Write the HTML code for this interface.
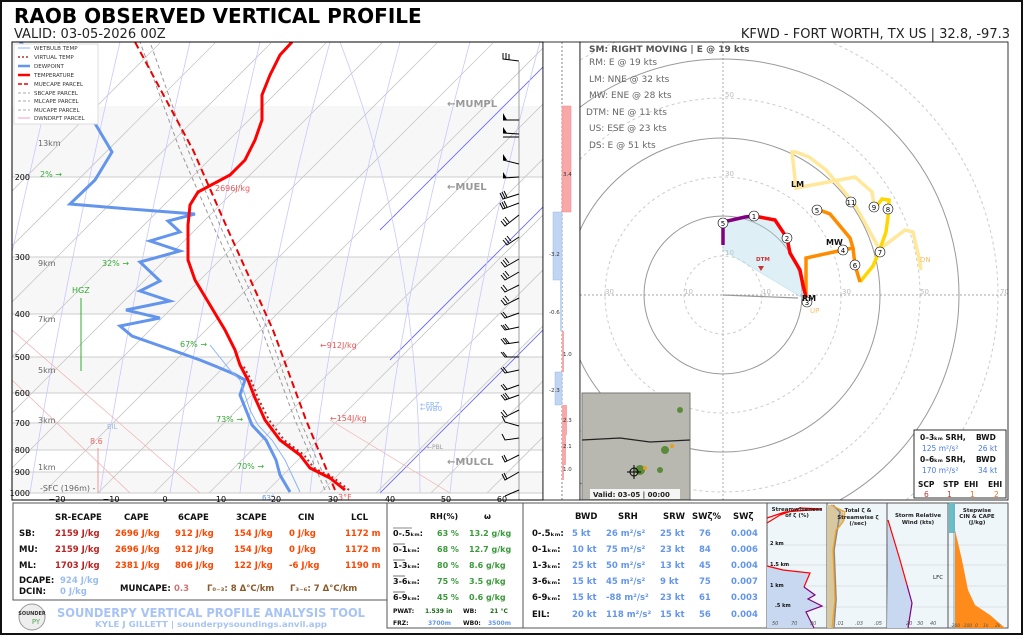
<!DOCTYPE html>
<html><head><meta charset="utf-8"><style>
body{margin:0;background:#fff;}
svg{display:block;font-family:"DejaVu Sans","Liberation Sans",sans-serif;}
</style></head><body>
<svg width="1024" height="640" viewBox="0 0 1024 640" xmlns="http://www.w3.org/2000/svg">
<rect x="0" y="0" width="1024" height="640" fill="#fff"/>
<rect x="1" y="1" width="1021" height="633" fill="none" stroke="#111" stroke-width="2"/>
<text x="14" y="23" font-size="20" font-weight="bold" fill="#000">RAOB OBSERVED VERTICAL PROFILE</text>
<text x="14" y="38" font-size="13" fill="#222">VALID: 03-05-2026 00Z</text>
<text x="1010" y="38" font-size="13" fill="#222" text-anchor="end">KFWD - FORT WORTH, TX US | 32.8, -97.3</text>

<defs><clipPath id="sk"><rect x="12" y="42" width="531" height="458"/></clipPath>
<clipPath id="hd"><rect x="580" y="42" width="428" height="458"/></clipPath></defs>
<g clip-path="url(#sk)">
<rect x="12" y="42" width="531" height="458" fill="#fff"/>
<rect x="12" y="106" width="531" height="71" fill="#f7f7f7"/>
<rect x="12" y="257" width="531" height="57" fill="#f7f7f7"/>
<rect x="12" y="357" width="531" height="36" fill="#f7f7f7"/>
<rect x="12" y="423" width="531" height="27" fill="#f7f7f7"/>
<rect x="12" y="472" width="531" height="21" fill="#f7f7f7"/>
<g stroke="#ccc" stroke-width="1">
<line x1="12" y1="493" x2="543" y2="493"/><line x1="12" y1="472" x2="543" y2="472"/>
<line x1="12" y1="450" x2="543" y2="450"/><line x1="12" y1="423" x2="543" y2="423"/>
<line x1="12" y1="393" x2="543" y2="393"/><line x1="12" y1="357" x2="543" y2="357"/>
<line x1="12" y1="314" x2="543" y2="314"/><line x1="12" y1="257" x2="543" y2="257"/>
<line x1="12" y1="177" x2="543" y2="177"/>
</g>
<g stroke="#c8c8c8" stroke-width="0.8">
<line x1="-290" y1="493" x2="160" y2="43"/><line x1="-235" y1="493" x2="215" y2="43"/>
<line x1="-179" y1="493" x2="271" y2="43"/><line x1="-124" y1="493" x2="326" y2="43"/>
<line x1="-68" y1="493" x2="382" y2="43"/><line x1="-13" y1="493" x2="437" y2="43"/>
<line x1="43" y1="493" x2="493" y2="43"/><line x1="98" y1="493" x2="548" y2="43"/>
<line x1="154" y1="493" x2="604" y2="43"/><line x1="209" y1="493" x2="659" y2="43"/>
<line x1="265" y1="493" x2="715" y2="43"/><line x1="320" y1="493" x2="770" y2="43"/>
<line x1="376" y1="493" x2="826" y2="43"/><line x1="431" y1="493" x2="881" y2="43"/>
<line x1="487" y1="493" x2="937" y2="43"/>
</g>
<g stroke="#6a6aee" stroke-width="0.9">
<line x1="380" y1="493" x2="830" y2="43"/><line x1="390" y1="360" x2="700" y2="50"/>
<line x1="380" y1="230" x2="560" y2="50"/>
</g>
<g stroke="#c8c8ff" stroke-width="0.8" fill="none">
<path d="M-40 493 Q0 300 60 42"/><path d="M30 493 Q60 300 120 42"/><path d="M100 493 Q130 300 190 42"/>
<path d="M170 493 Q200 300 260 42"/><path d="M240 493 Q260 300 330 42"/><path d="M310 493 Q330 300 400 42"/>
<path d="M380 493 Q400 300 470 42"/><path d="M450 493 Q470 300 540 42"/>
<path d="M420 493 Q420 250 340 42"/>
</g>
<g stroke="#f0b0b0" stroke-width="0.7" fill="none">
<path d="M12 330 L200 493"/><path d="M12 380 L130 493"/><path d="M330 420 L450 493"/>
</g>
<path d="M330 490 L300 420 L268 330 L222 230 L188 150 L150 42" fill="none" stroke="#999" stroke-width="1" stroke-dasharray="4,3"/>
<path d="M325 490 L295 420 L262 330 L215 230 L180 150 L140 42" fill="none" stroke="#999" stroke-width="1" stroke-dasharray="4,3"/>
<path d="M335 490 L306 420 L273 330 L228 230 L193 150 L135 42" fill="none" stroke="#e00" stroke-width="2" stroke-dasharray="7,4"/>
<polyline fill="none" stroke="#6495ed" stroke-width="3" points="290,492 280,475 276,460 266,440 252,425 246,410 240,395 245,380 234,374 215,366 200,360 172,350 132,336 120,326 160,318 126,310 170,301 140,291 160,281 140,262 180,251 150,241 180,232 168,221 195,214 130,209 70,204 95,180 112,152 90,115 60,80 38,58 20,42"/>
<polyline fill="none" stroke="#8ab4f8" stroke-width="1" points="300,492 292,475 285,460 272,440 258,425 250,410 245,395 240,380 230,370 222,360 210,345"/>
<polyline fill="none" stroke="#a33" stroke-width="2" stroke-dasharray="2,3" points="349,490 334,478 314,468 304,455 284,440 269,420 258,398 251,380 243,365"/>
<polyline fill="none" stroke="#f00" stroke-width="3" points="345,490 330,478 310,468 300,455 280,440 265,420 255,398 248,380 240,365 235,350 225,330 210,305 195,280 188,260 188,225 190,205 198,192 230,175 245,160 255,140 262,120 262,95 270,75 280,55 292,42"/>
<g font-size="8" fill="#666">
<text x="38" y="146">13km</text><text x="38" y="266">9km</text><text x="38" y="322">7km</text>
<text x="38" y="373">5km</text><text x="38" y="423">3km</text><text x="38" y="470">1km</text>
<text x="40" y="491">-SFC (196m) -</text>
</g>
<g font-size="8" fill="#3a3">
<text x="40" y="177">2% →</text><text x="102" y="266">32% →</text><text x="180" y="347">67% →</text>
<text x="216" y="422">73% →</text><text x="237" y="469">70% →</text>
</g>
<text x="72" y="293" font-size="8" fill="#3a3">HGZ</text>
<line x1="81" y1="298" x2="81" y2="371" stroke="#3a3" stroke-width="1"/>
<text x="90" y="444" font-size="8" fill="#e66">8.6</text>
<line x1="98" y1="448" x2="98" y2="493" stroke="#e99"/>
<text x="107" y="429" font-size="7" fill="#9bd">EIL</text>
<g font-size="8" fill="#e55">
<text x="215" y="191">2696J/kg</text><text x="320" y="348">←912J/kg</text><text x="330" y="421">←154J/kg</text>
<text x="338" y="500">3°F</text>
</g>
<g font-size="10" font-weight="bold" fill="#999">
<text x="447" y="107">←MUMPL</text><text x="447" y="190">←MUEL</text>
<text x="447" y="465">←MULCL</text>
</g>
<text x="420" y="407" font-size="7" fill="#8ab4f8">←FRZ</text>
<text x="420" y="411" font-size="7" fill="#8ab4f8">←WB0</text>
<text x="427" y="449" font-size="6" fill="#999">←PBL</text>
<text x="262" y="500" font-size="7" fill="#6495ed">63°</text>
<line x1="519" y1="62" x2="519" y2="500" stroke="#888" stroke-width="0.8"/>
<g stroke="#000" stroke-width="1" fill="none">
<path d="M519 61 L503 59 L503 53 M506 59 L506 53 M509 60 L509 54"/>
<path d="M519 120 L503 120"/><path d="M519 134 L503 133 M519 137 L503 137"/>
<path d="M519 164 L503 160"/><path d="M519 177 L503 178"/>
<path d="M519 194 L503 199 L500 193 M505 198 L502 192 M507 197 L504 191"/>
<path d="M519 203 L503 209 L500 203 M505 208 L502 202 M507 207 L504 201"/>
<path d="M519 215 L505 226 L501 221 M507 224 L503 219 M509 222 L505 217"/>
<path d="M519 237 L507 245 L503 240 M509 243 L505 238 M511 241 L507 236"/>
<path d="M519 259 L505 267 L501 262 M507 265 L503 260 M509 263 L505 258"/>
<path d="M519 272 L505 280 L501 275 M507 278 L503 273 M509 276 L505 271"/>
<path d="M519 285 L505 292 L501 287 M507 290 L503 285"/>
<path d="M519 298 L505 305 L501 300 M507 303 L503 298 M509 301 L505 296"/>
<path d="M519 313 L505 318 L501 313 M507 317 L503 312"/>
<path d="M519 327 L505 330 L501 325 M507 330 L503 325 M509 329 L505 324"/>
<path d="M519 342 L505 344 L501 339 M507 343 L503 338 M509 343 L505 338"/>
<path d="M519 357 L505 357 L501 352 M507 357 L503 352"/>
<path d="M519 370 L505 373 L501 368 M507 372 L503 367"/>
<path d="M519 385 L505 390 L501 385 M507 389 L503 384"/>
<path d="M519 395 L505 400 L501 395 M507 399 L503 394 M509 398 L505 393"/>
<path d="M519 410 L505 417 L501 412 M507 415 L503 410"/>
<path d="M519 426 L505 422 L502 416"/>
<path d="M519 438 L505 440 L502 434"/>
<path d="M519 455 L505 462 L502 456 M507 461 L504 455"/>
<path d="M519 472 L505 480 L502 474 M507 479 L504 473"/>
<path d="M519 490 L505 496"/>
</g>
<g fill="#000">
<polygon points="503,120 503,113 507,120"/><polygon points="503,133 503,127 507,133"/>
<polygon points="503,160 503,154 507,160"/><polygon points="503,178 503,172 507,178"/>
</g>
<rect x="14" y="44" width="84" height="80" fill="#fff" stroke="#ddd"/>
<g font-size="5.5" fill="#333">
<line x1="18" y1="48" x2="30" y2="48" stroke="#8ab4f8"/><text x="34" y="50">WETBULB TEMP</text>
<line x1="18" y1="57" x2="30" y2="57" stroke="#a33" stroke-width="1.5" stroke-dasharray="2,2"/><text x="34" y="59">VIRTUAL TEMP</text>
<line x1="18" y1="66" x2="30" y2="66" stroke="#6495ed" stroke-width="2.5"/><text x="34" y="68">DEWPOINT</text>
<line x1="18" y1="75" x2="30" y2="75" stroke="#f00" stroke-width="2.5"/><text x="34" y="77">TEMPERATURE</text>
<line x1="18" y1="84" x2="30" y2="84" stroke="#e00" stroke-width="1.5" stroke-dasharray="4,2"/><text x="34" y="86">MUECAPE PARCEL</text>
<line x1="18" y1="93" x2="30" y2="93" stroke="#aaa" stroke-dasharray="3,2"/><text x="34" y="95">SBCAPE PARCEL</text>
<line x1="18" y1="101" x2="30" y2="101" stroke="#aaa" stroke-dasharray="3,2"/><text x="34" y="103">MLCAPE PARCEL</text>
<line x1="18" y1="110" x2="30" y2="110" stroke="#aaa" stroke-dasharray="3,2"/><text x="34" y="112">MUCAPE PARCEL</text>
<line x1="18" y1="118" x2="30" y2="118" stroke="#e8a0c0"/><text x="34" y="120">DWNDRFT PARCEL</text>
</g>
</g>
<rect x="12" y="42" width="531" height="458" fill="none" stroke="#000" stroke-width="1"/>
<g font-size="8" fill="#000" text-anchor="end">
<text x="30" y="496">1000</text><text x="30" y="475">900</text><text x="30" y="453">800</text>
<text x="30" y="426">700</text><text x="30" y="396">600</text><text x="30" y="360">500</text>
<text x="30" y="317">400</text><text x="30" y="260">300</text><text x="30" y="180">200</text>
</g>
<g font-size="8" fill="#000" text-anchor="middle">
<text x="57" y="502">−20</text><text x="111" y="502">−10</text><text x="165" y="502">0</text>
<text x="221" y="502">10</text><text x="276" y="502">20</text><text x="333" y="502">30</text>
<text x="390" y="502">40</text><text x="446" y="502">50</text><text x="502" y="502">60</text>
</g>

<rect x="543" y="42" width="37" height="458" fill="#fff" stroke="#000" stroke-width="0.8"/>
<line x1="562" y1="42" x2="562" y2="500" stroke="#333" stroke-width="0.6" stroke-dasharray="2,2"/>
<g>
<rect x="562" y="106" width="9" height="106" fill="#f8a8a8" stroke="#e88" stroke-width="0.5"/>
<rect x="553" y="212" width="9" height="68" fill="#c0d4f4" stroke="#9bd" stroke-width="0.5"/>
<rect x="560" y="280" width="2" height="51" fill="#c0d4f4"/>
<rect x="562" y="331" width="2" height="41" fill="#f8a8a8"/>
<rect x="555" y="372" width="7" height="33" fill="#c0d4f4" stroke="#9bd" stroke-width="0.5"/>
<rect x="562" y="405" width="5" height="30" fill="#f8a8a8"/>
<rect x="562" y="435" width="4" height="30" fill="#f8a8a8"/>
<rect x="562" y="465" width="2" height="15" fill="#f8a8a8"/>
</g>
<g font-size="5.5" fill="#333">
<text x="563" y="176">3.4</text><text x="549" y="256">-3.2</text><text x="549" y="314">-0.6</text>
<text x="563" y="356">1.0</text><text x="549" y="392">-2.3</text><text x="563" y="422">2.3</text>
<text x="563" y="448">2.1</text><text x="563" y="471">1.0</text>
</g>

<g clip-path="url(#hd)">
<rect x="580" y="42" width="428" height="458" fill="#fff"/>
<g fill="none">
<circle cx="723" cy="295" r="39" stroke="#ccc" stroke-dasharray="3,3"/>
<circle cx="723" cy="295" r="79" stroke="#999"/>
<circle cx="723" cy="295" r="118" stroke="#ccc" stroke-dasharray="3,3"/>
<circle cx="723" cy="295" r="157" stroke="#999"/>
<circle cx="723" cy="295" r="197" stroke="#ccc" stroke-dasharray="3,3"/>
<circle cx="723" cy="295" r="236" stroke="#999"/>
<circle cx="723" cy="295" r="275" stroke="#ccc" stroke-dasharray="3,3"/>
</g>
<line x1="723" y1="42" x2="723" y2="500" stroke="#888" stroke-width="0.7" stroke-dasharray="2,2"/>
<line x1="580" y1="295" x2="1008" y2="295" stroke="#888" stroke-width="0.7" stroke-dasharray="2,2"/>
<g font-size="7" fill="#bbb">
<text x="605" y="294">30</text><text x="684" y="294">10</text><text x="762" y="294">10</text>
<text x="842" y="294">30</text><text x="920" y="294">50</text><text x="1000" y="294">70</text>
<text x="725" y="255">10</text><text x="725" y="176">30</text><text x="725" y="97">50</text>
</g>
<polygon points="723,222 745,217 754,216 775,220 787,238 790,253 800,270 803,285 801,297 723,250" fill="#add8e6" fill-opacity="0.4" stroke="#add8e6" stroke-width="0.5"/>
<line x1="723" y1="295" x2="798" y2="298" stroke="#999" stroke-width="1.2"/>
<polyline fill="none" stroke="#ffe89a" stroke-width="3.5" points="876,252 905,230 913,232 919,258 921,270"/>
<polyline fill="none" stroke="#ffe89a" stroke-width="3.5" points="881,252 855,205 843,190 826,170 809,157 796,152 792,152 796,188 855,177 872,192 874,205"/>
<polyline fill="none" stroke="#ffd700" stroke-width="3.5" points="860,282 873,266 879,252 886,232 888,217 889,200 882,199 876,207"/>
<polyline fill="none" stroke="#ff8c00" stroke-width="3.5" points="806,297 806,258 843,250 853,248 850,238 840,226 830,214 817,209"/>
<polyline fill="none" stroke="#ff8c00" stroke-width="3.5" points="853,248 855,265 860,282"/>
<polyline fill="none" stroke="#f00" stroke-width="3.5" points="754,216 775,220 787,238 790,253 800,270 803,285 806,297"/>
<polyline fill="none" stroke="#800080" stroke-width="3.5" points="723,245 723,222 745,217 754,216"/>
<g stroke="#000" stroke-width="0.6" fill="#fff">
<circle cx="723" cy="223" r="5"/><circle cx="754" cy="216" r="5"/><circle cx="787" cy="238" r="5"/>
<circle cx="807" cy="302" r="5"/><circle cx="843" cy="250" r="5"/><circle cx="817" cy="210" r="5"/>
<circle cx="855" cy="265" r="5"/><circle cx="880" cy="252" r="5"/><circle cx="888" cy="209" r="5"/>
<circle cx="874" cy="207" r="5"/><circle cx="851" cy="202" r="5"/>
</g>
<g font-size="7" fill="#000" text-anchor="middle">
<text x="723" y="226">5</text><text x="754" y="219">1</text><text x="787" y="241">2</text><text x="807" y="305">3</text>
<text x="843" y="253">4</text><text x="817" y="213">5</text><text x="855" y="268">6</text><text x="880" y="255">7</text>
<text x="888" y="212">8</text><text x="874" y="210">9</text><text x="851" y="205">11</text>
</g>
<g font-size="8" font-weight="bold" fill="#111">
<text x="791" y="187">LM</text><text x="826" y="245">MW</text><text x="802" y="301">RM</text>
</g>
<text x="756" y="261" font-size="5.5" font-weight="bold" fill="#c33">DTM</text>
<polygon points="758,266 764,266 761,271" fill="#c33"/>
<text x="810" y="313" font-size="7" fill="#f5c06a">UP</text>
<text x="920" y="262" font-size="7" fill="#f5c06a">DN</text>
<text x="589" y="52" font-size="9" font-weight="bold" fill="#555">SM: RIGHT MOVING | E @ 19 kts</text>
<g font-size="9" fill="#666">
<text x="589" y="65">RM: E @ 19 kts</text><text x="589" y="82">LM: NNE @ 32 kts</text>
<text x="589" y="98">MW: ENE @ 28 kts</text><text x="586" y="115">DTM: NE @ 11 kts</text>
<text x="589" y="131">US: ESE @ 23 kts</text><text x="589" y="148">DS: E @ 51 kts</text>
</g>
<rect x="582" y="393" width="108" height="107" fill="#b8b8b0" stroke="#777"/>
<path d="M582 440 L620 438 L650 442 L690 440" stroke="#222" stroke-width="1.2" fill="none"/>
<g fill="#5a8a3a"><circle cx="665" cy="450" r="4"/><circle cx="640" cy="470" r="5"/><circle cx="680" cy="410" r="3"/><circle cx="660" cy="470" r="3"/></g>
<g fill="#e6a020"><circle cx="672" cy="446" r="2"/><circle cx="645" cy="468" r="2"/></g>
<circle cx="634" cy="472" r="4" fill="none" stroke="#000"/><line x1="627" y1="472" x2="641" y2="472" stroke="#000"/><line x1="634" y1="465" x2="634" y2="479" stroke="#000"/>
<rect x="590" y="489" width="90" height="10" fill="#fff" opacity="0.85"/>
<text x="593" y="497" font-size="7" font-weight="bold" fill="#222">Valid: 03-05 | 00:00</text>
<rect x="914" y="430" width="92" height="68" fill="#fff" stroke="#000" stroke-width="0.8"/>
<g font-size="7.5" font-weight="bold" fill="#111">
<text x="920" y="440">0–3ₖₘ SRH,</text><text x="976" y="440">BWD</text>
<text x="920" y="462">0–6ₖₘ SRH,</text><text x="976" y="462">BWD</text>
<text x="918" y="487">SCP</text><text x="943" y="487">STP</text><text x="964" y="487">EHI</text><text x="988" y="487">EHI</text>
</g>
<g font-size="7.5" fill="#4a7ae0">
<text x="922" y="451">125 m²/s²</text><text x="978" y="451">26 kt</text>
<text x="922" y="473">170 m²/s²</text><text x="978" y="473">34 kt</text>
</g>
<g font-size="7.5" fill="#c33"><text x="924" y="497">6</text><text x="947" y="497">1</text></g>
<g font-size="7.5" fill="#e67020"><text x="970" y="497">1</text><text x="994" y="497">2</text></g>
</g>
<rect x="580" y="42" width="428" height="458" fill="none" stroke="#000" stroke-width="0.8"/>

<rect x="13" y="503" width="374" height="97" fill="#fff" stroke="#555"/>
<g font-size="8.5" font-weight="bold" fill="#111">
<text x="55" y="520">SR-ECAPE</text><text x="124" y="520">CAPE</text><text x="178" y="520">6CAPE</text>
<text x="236" y="520">3CAPE</text><text x="298" y="520">CIN</text><text x="351" y="520">LCL</text>
<text x="19" y="536">SB:</text><text x="19" y="552">MU:</text><text x="19" y="568">ML:</text>
<text x="19" y="583">DCAPE:</text><text x="19" y="594">DCIN:</text>
<text x="120" y="591">MUNCAPE:</text>
</g>
<g font-size="8.5" font-weight="bold">
<g fill="#b22">
<text x="55" y="536">2159 J/kg</text><text x="55" y="552">2159 J/kg</text><text x="55" y="568">1703 J/kg</text>
</g>
<g fill="#ff4500">
<text x="115" y="536">2696 J/kg</text><text x="175" y="536">912 J/kg</text><text x="234" y="536">154 J/kg</text><text x="289" y="536">0 J/kg</text><text x="345" y="536">1172 m</text>
<text x="115" y="552">2696 J/kg</text><text x="175" y="552">912 J/kg</text><text x="234" y="552">154 J/kg</text><text x="289" y="552">0 J/kg</text><text x="345" y="552">1172 m</text>
<text x="115" y="568">2381 J/kg</text><text x="175" y="568">806 J/kg</text><text x="234" y="568">122 J/kg</text><text x="289" y="568">-6 J/kg</text><text x="345" y="568">1190 m</text>
</g>
<g fill="#9bbcf0"><text x="60" y="583">924 J/kg</text><text x="60" y="594">0 J/kg</text></g>
<text x="174" y="591" fill="#c77">0.3</text>
<text x="207" y="591" fill="#8b5a2b">Γ₀₋₃:  8 Δ°C/km</text>
<text x="290" y="591" fill="#8b5a2b">Γ₃₋₆:  7 Δ°C/km</text>
</g>
<circle cx="32" cy="617" r="13" fill="#eee" stroke="#999"/>
<text x="32" y="615" font-size="5" font-weight="bold" text-anchor="middle" fill="#333">SOUNDER</text>
<text x="36" y="624" font-size="7" text-anchor="middle" fill="#5a5">PY</text>
<text x="57" y="617" font-size="12" font-weight="bold" fill="#a8c4f4" textLength="308" lengthAdjust="spacingAndGlyphs">SOUNDERPY VERTICAL PROFILE ANALYSIS TOOL</text>
<text x="95" y="627" font-size="8" font-weight="bold" fill="#a8c4f4" textLength="232" lengthAdjust="spacingAndGlyphs">KYLE J GILLETT | sounderpysoundings.anvil.app</text>

<rect x="387" y="503" width="136" height="125" fill="#fff" stroke="#555"/>
<g font-size="8" font-weight="bold" fill="#111">
<text x="430" y="519">RH(%)</text><text x="484" y="519">ω</text>
<text x="393" y="536">0-.5ₖₘ:</text><text x="393" y="552">0-1ₖₘ:</text><text x="393" y="568">1-3ₖₘ:</text>
<text x="393" y="584">3-6ₖₘ:</text><text x="393" y="600">6-9ₖₘ:</text>
<text x="393" y="613" font-size="6">PWAT:</text><text x="463" y="613" font-size="6">WB:</text>
<text x="393" y="625" font-size="6">FRZ:</text><text x="463" y="625" font-size="6">WB0:</text>
</g>
<g stroke="#111" stroke-width="0.6"><line x1="393" y1="528" x2="412" y2="528"/><line x1="393" y1="544" x2="405" y2="544"/><line x1="393" y1="560" x2="405" y2="560"/><line x1="393" y1="576" x2="405" y2="576"/><line x1="393" y1="592" x2="405" y2="592"/></g>
<g font-size="8" font-weight="bold" fill="#3a9a3a">
<text x="437" y="536">63 %</text><text x="469" y="536">13.2 g/kg</text>
<text x="437" y="552">68 %</text><text x="469" y="552">12.7 g/kg</text>
<text x="437" y="568">80 %</text><text x="469" y="568">8.6 g/kg</text>
<text x="437" y="584">75 %</text><text x="469" y="584">3.5 g/kg</text>
<text x="437" y="600">45 %</text><text x="469" y="600">0.6 g/kg</text>
<text x="425" y="613" font-size="6" fill="#1a6a1a">1.539 in</text><text x="490" y="613" font-size="6" fill="#1a6a1a">21 °C</text>
</g>
<g font-size="6" font-weight="bold" fill="#6495ed"><text x="428" y="625">3700m</text><text x="488" y="625">3500m</text></g>

<rect x="523" y="503" width="244" height="125" fill="#fff" stroke="#555"/>
<g font-size="8.5" font-weight="bold" fill="#111">
<text x="575" y="519">BWD</text><text x="618" y="519">SRH</text><text x="663" y="519">SRW</text>
<text x="692" y="519">SWζ%</text><text x="733" y="519">SWζ</text>
<text x="532" y="536">0-.5ₖₘ:</text><text x="532" y="552">0-1ₖₘ:</text><text x="532" y="568">1-3ₖₘ:</text>
<text x="532" y="584">3-6ₖₘ:</text><text x="532" y="600">6-9ₖₘ:</text><text x="532" y="617">EIL:</text>
</g>
<g font-size="8.5" font-weight="bold" fill="#6495ed">
<text x="572" y="536">5 kt</text><text x="606" y="536">26 m²/s²</text><text x="660" y="536">25 kt</text><text x="699" y="536">76</text><text x="731" y="536">0.004</text>
<text x="572" y="552">10 kt</text><text x="606" y="552">75 m²/s²</text><text x="660" y="552">23 kt</text><text x="699" y="552">84</text><text x="731" y="552">0.006</text>
<text x="572" y="568">25 kt</text><text x="606" y="568">50 m²/s²</text><text x="660" y="568">13 kt</text><text x="699" y="568">45</text><text x="731" y="568">0.004</text>
<text x="572" y="584">15 kt</text><text x="606" y="584">45 m²/s²</text><text x="660" y="584">9 kt</text><text x="699" y="584">75</text><text x="731" y="584">0.007</text>
<text x="572" y="600">15 kt</text><text x="606" y="600">-88 m²/s²</text><text x="660" y="600">23 kt</text><text x="699" y="600">61</text><text x="731" y="600">0.003</text>
<text x="572" y="617">20 kt</text><text x="606" y="617">118 m²/s²</text><text x="660" y="617">15 kt</text><text x="699" y="617">56</text><text x="731" y="617">0.004</text>
</g>

<g>
<rect x="767" y="503" width="241" height="125" fill="#eef6fa" stroke="#555"/>
<g stroke="#ccc" stroke-width="0.6">
<line x1="767" y1="545" x2="1008" y2="545"/><line x1="767" y1="565" x2="1008" y2="565"/>
<line x1="767" y1="586" x2="1008" y2="586"/><line x1="767" y1="607" x2="1008" y2="607"/>
</g>
<line x1="827" y1="503" x2="827" y2="628" stroke="#555"/>
<line x1="887" y1="503" x2="887" y2="628" stroke="#555"/>
<line x1="948" y1="503" x2="948" y2="628" stroke="#555"/>
<polygon points="767,566 783,570 810,573 804,587 815,595 808,599 822,606 806,612 814,628 767,628" fill="#c8d8f0"/>
<polyline fill="none" stroke="#f00" stroke-width="1.2" points="767,566 783,570 810,573 804,587"/>
<polyline fill="none" stroke="#800080" stroke-width="1.2" points="804,587 815,595 808,599 822,606 806,612 814,628"/>
<polyline fill="none" stroke="#f00" stroke-width="1.2" points="767,523 780,515 800,508 822,509 785,512 767,518"/>
<g font-size="5" font-weight="bold" fill="#111">
<text x="770" y="545">2 km</text><text x="770" y="566">1.5 km</text><text x="770" y="587">1 km</text><text x="775" y="607">.5 km</text>
</g>
<text x="797" y="511" font-size="5.5" font-weight="bold" text-anchor="middle" fill="#222">Streamwiseness</text>
<text x="797" y="517" font-size="5.5" font-weight="bold" text-anchor="middle" fill="#222">of ζ (%)</text>
<g font-size="5" fill="#555" font-style="italic"><text x="772" y="625">50</text><text x="791" y="625">70</text><text x="810" y="625">90</text></g>
<polygon points="830,505 843,510 845,520 838,530 835,550 837,600 833,628 827,628 827,505" fill="#d8c8a0"/>
<polyline fill="none" stroke="#888" stroke-width="1.5" points="833,505 840,512 838,525 834,550 836,600 834,628"/>
<polyline fill="none" stroke="#f5a020" stroke-width="1.2" points="831,505 845,512 843,522 836,530 833,550 835,600 832,628"/>
<text x="858" y="512" font-size="5.5" font-weight="bold" text-anchor="middle" fill="#222">Total ζ &amp;</text>
<text x="858" y="519" font-size="5.5" font-weight="bold" text-anchor="middle" fill="#222">Streamwise ζ</text>
<text x="858" y="525" font-size="5.5" font-weight="bold" text-anchor="middle" fill="#222">(/sec)</text>
<g font-size="5" fill="#555" font-style="italic"><text x="836" y="625">.01</text><text x="855" y="625">.03</text><text x="874" y="625">.05</text></g>
<polygon points="888,520 907,585 912,603 908,628 887,628" fill="#c8d8f0"/>
<polyline fill="none" stroke="#f00" stroke-width="1.2" points="888,520 900,560 907,585"/>
<polyline fill="none" stroke="#800080" stroke-width="1.2" points="907,585 912,603 908,628"/>
<text x="918" y="517" font-size="5.5" font-weight="bold" text-anchor="middle" fill="#222">Storm Relative</text>
<text x="918" y="524" font-size="5.5" font-weight="bold" text-anchor="middle" fill="#222">Wind (kts)</text>
<text x="933" y="579" font-size="5.5" fill="#222">LFC</text>
<g font-size="5" fill="#555" font-style="italic"><text x="906" y="625">20</text><text x="917" y="625">30</text><text x="930" y="625">40</text></g>
<rect x="949" y="503" width="6" height="30" fill="#66c0c8"/>
<line x1="954" y1="503" x2="954" y2="628" stroke="#7ac" stroke-width="1"/>
<polygon points="955,530 962,560 968,590 975,605 990,615 1005,628 955,628" fill="#ff8c1a"/>
<text x="977" y="512" font-size="5.5" font-weight="bold" text-anchor="middle" fill="#222">Stepwise</text>
<text x="977" y="518" font-size="5.5" font-weight="bold" text-anchor="middle" fill="#222">CIN &amp; CAPE</text>
<text x="977" y="524" font-size="5.5" font-weight="bold" text-anchor="middle" fill="#222">(J/kg)</text>
<g font-size="4.5" fill="#555" font-style="italic"><text x="950" y="627">-200</text><text x="962" y="627">-100</text><text x="975" y="627">0</text><text x="983" y="627">1k</text><text x="995" y="627">2k</text></g>
</g>
</svg>
</body></html>
